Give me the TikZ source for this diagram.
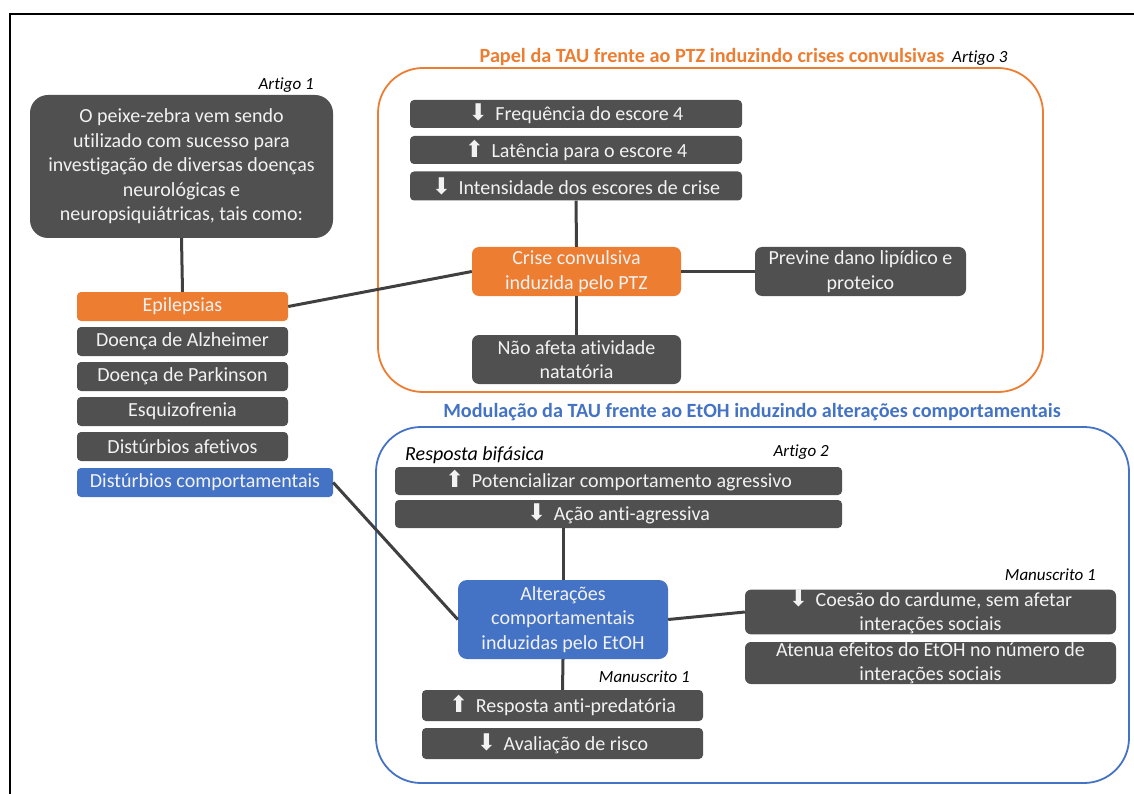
\documentclass[tikz,border=0pt]{standalone}
\usepackage{fontspec}
\setmainfont{Carlito}[Ligatures={NoCommon}]
\newfontfamily\symfont{DejaVu Sans}
\usetikzlibrary{calc}
\definecolor{dgray}{HTML}{505050}
\definecolor{orng}{HTML}{ED7D31}
\definecolor{blu}{HTML}{4472C4}
\definecolor{txt}{HTML}{F2F2F2}
\definecolor{lgray}{HTML}{404040}
\newcommand\dnarrow{{\symfont\fontsize{23}{16}\selectfont ⬇}\hspace{3pt}}
\newcommand\uparr{{\symfont\fontsize{23}{16}\selectfont ⬆}\hspace{3pt}}
\newcommand\fs{\fontsize{20}{24.5}\selectfont}
\newcommand\itfs{\fontsize{17}{20}\selectfont\itshape}
\tikzset{
  base/.style={rounded corners=4pt, text=txt, align=center, inner sep=0pt, font=\fs},
  gbox/.style={base, fill=dgray},
  obox/.style={base, fill=orng},
  bbox/.style={base, fill=blu},
  conn/.style={line width=3pt, draw=lgray},
  lab/.style={font=\itfs, text=black, inner sep=0pt},
  ttl/.style={font=\fontsize{20.2}{22}\selectfont\bfseries, inner sep=0pt},
}
\begin{document}
\begin{tikzpicture}[x=1pt,y=-1pt]
\useasboundingbox (0,0) rectangle (1134,794);
% outer frame
\draw[line width=1.5pt, black] (10,794) -- (10,14) -- (1134,14);

% left part
\node[lab, anchor=east] (art1) at (314,85) {Artigo 1};
\node[gbox, rounded corners=18pt, minimum width=303pt, minimum height=143pt] (big) at (181.5,166.5)
  {O peixe-zebra vem sendo\\utilizado com sucesso para\\investigação de diversas doenças\\neurológicas e\\neuropsiquiátricas, tais como:};
\node[obox, minimum width=211pt, minimum height=29pt] (epi) at (182.5,306.5) {Epilepsias};
\node[gbox, minimum width=211pt, minimum height=29pt] (alz) at (182.5,341.5) {Doença de Alzheimer};
\node[gbox, minimum width=211pt, minimum height=29pt] (park) at (182.5,376.5) {Doença de Parkinson};
\node[gbox, minimum width=211pt, minimum height=29pt] (esq) at (182.5,411.5) {Esquizofrenia};
\node[gbox, minimum width=211pt, minimum height=29pt] (afet) at (182.5,446.5) {Distúrbios afetivos};
\node[bbox, minimum width=256pt, minimum height=29pt] (comp) at (205,482.5) {Distúrbios comportamentais};

% orange group
\node[ttl, text=orng] (ttlo) at (712,57) {Papel da TAU frente ao PTZ induzindo crises convulsivas};
\node[lab, anchor=west] (art3) at (952,58) {Artigo 3};
\draw[orng, line width=1.8pt, rounded corners=45pt] (378,68) rectangle (1043,392);
\node[gbox, minimum width=332pt, minimum height=28pt] (freq) at (576,114) {\dnarrow\ Frequência do escore 4};
\node[gbox, minimum width=332pt, minimum height=28pt] (lat) at (576,150) {\uparr\ Latência para o escore 4};
\node[gbox, minimum width=332pt, minimum height=29pt] (inten) at (576,186) {\dnarrow\ Intensidade dos escores de crise};
\node[obox, rounded corners=7pt, minimum width=209pt, minimum height=49pt] (crise) at (576.5,271.5) {Crise convulsiva\\induzida pelo PTZ};
\node[gbox, rounded corners=7pt, minimum width=211pt, minimum height=49pt] (prev) at (860.5,271.5) {Previne dano lipídico e\\proteico};
\node[gbox, rounded corners=7pt, minimum width=209pt, minimum height=49pt] (nao) at (576.5,359.5) {Não afeta atividade\\natatória};

% blue group
\node[ttl, text=blu] (ttlb) at (752,412) {Modulação da TAU frente ao EtOH induzindo alterações comportamentais};
\draw[blu, line width=1.8pt, rounded corners=45pt] (376,427) rectangle (1129,783);
\node[lab, anchor=west, font=\fontsize{20}{22}\selectfont\itshape] (bif) at (405,455) {Resposta bifásica};
\node[lab, anchor=east] (art2) at (829,452) {Artigo 2};
\node[gbox, minimum width=447pt, minimum height=28pt] (pot) at (618.5,481) {\uparr\ Potencializar comportamento agressivo};
\node[gbox, minimum width=447pt, minimum height=28pt] (acao) at (618.5,514) {\dnarrow\ Ação anti-agressiva};
\node[bbox, rounded corners=9pt, minimum width=210pt, minimum height=79pt] (alter) at (563,619.5) {Alterações\\comportamentais\\induzidas pelo EtOH};
\node[lab, anchor=east] (man1) at (1096,575) {Manuscrito 1};
\node[gbox, rounded corners=6pt, minimum width=371pt, minimum height=44pt] (coes) at (930.5,612) {\dnarrow\ Coesão do cardume, sem afetar\\interações sociais};
\node[gbox, rounded corners=6pt, minimum width=371pt, minimum height=42pt] (aten) at (930.5,663) {Atenua efeitos do EtOH no número de\\interações sociais};
\node[lab, anchor=east] (man2) at (690,677) {Manuscrito 1};
\node[gbox, minimum width=281pt, minimum height=31pt] (resp) at (562.5,705.5) {\uparr\ Resposta anti-predatória};
\node[gbox, minimum width=281pt, minimum height=31pt] (aval) at (562.5,743.5) {\dnarrow\ Avaliação de risco};

% connectors
\draw[conn] (big.south) -- (epi.north);
\draw[conn] (epi.east) -- (crise.west);
\draw[conn] (inten.south) -- (crise.north);
\draw[conn] (crise.east) -- (prev.west);
\draw[conn] (crise.south) -- (nao.north);
\draw[conn] (alter.north) -- (alter.north |- acao.south);
\draw[conn] (comp.east) -- (alter.west);
\draw[conn] (alter.east) -- (coes.west);
\draw[conn] (alter.south) -- (resp.north);
\end{tikzpicture}
\end{document}
